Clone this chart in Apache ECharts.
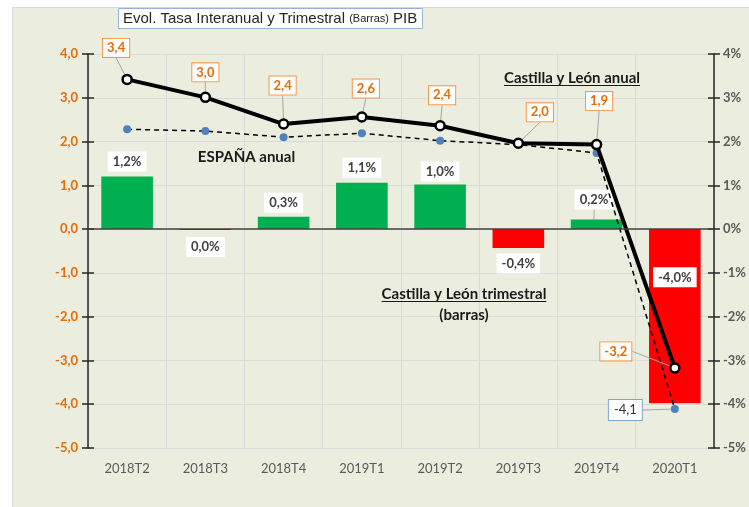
<!DOCTYPE html>
<html><head><meta charset="utf-8">
<script src="https://cdn.jsdelivr.net/npm/echarts@6/dist/echarts.min.js"></script>
<style>html,body{margin:0;padding:0;background:#fff}#c{width:749px;height:507px}</style>
</head><body><div id="c"></div>
<script>
// ---- data ----
const categories = ['2018T2','2018T3','2018T4','2019T1','2019T2','2019T3','2019T4','2020T1'];
const cylTrimestral = [1.2, -0.02, 0.28, 1.06, 1.02, -0.43, 0.22, -3.98];
const cylAnual = [3.42, 3.01, 2.40, 2.56, 2.36, 1.96, 1.93, -3.17];
const espanaAnual = [2.28, 2.24, 2.10, 2.19, 2.02, 1.93, 1.74, -4.11];
const axisMin = -5, axisMax = 4, axisStep = 1;

// ---- label placement (style only) ----
const cylLabelOffsets = [[-11,-31.5],[0,-25],[-1,-38.5],[4,-28.5],[2,-30.5],[21.5,-31],[2.5,-43.5],[-59,-16.5]];
const espLabelOffset = [-49.5, 1];
const barLabelOffsets = [[0,-15],[0,17],[0,-14],[0,-15],[0,-13],[0,15.5],[-2.5,-20],[0,-126]];

const FONT = 'Lato';
const fmt1 = v => { let s = v.toFixed(1); if (s === '-0.0') s = '0.0'; return s.replace('.', ','); };

const chart = echarts.init(document.getElementById('c'), null, {renderer:'canvas'});

const ctx = document.createElement('canvas').getContext('2d');
function tw(t, f){ ctx.font = f; return ctx.measureText(t).width; }
const annFont = 'bold 15px ' + FONT;
const annotations = [
  {text:'Castilla y León anual', x:572, y:78, u:true},
  {text:'ESPAÑA anual', x:246.5, y:157, u:false},
  {text:'Castilla y León trimestral', x:464, y:294, u:true},
  {text:'(barras)', x:464, y:315, u:false}
];
const graphics = [{
  type:'rect', z:-10, silent:true,
  shape:{x:12.5, y:7.5, width:760, height:520},
  style:{fill:'#EBEEDF', stroke:'#D9D9D9', lineWidth:1}
}];
annotations.forEach(a => {
  graphics.push({type:'text', z:10, silent:true, style:{text:a.text, x:a.x, y:a.y, font:annFont, fill:'#1a1a1a', align:'center', verticalAlign:'middle'}});
  if (a.u) {
    const w = tw(a.text, annFont);
    graphics.push({type:'line', z:10, silent:true, shape:{x1:a.x - w/2, y1:a.y + 7.5, x2:a.x + w/2, y2:a.y + 7.5}, style:{stroke:'#1a1a1a', lineWidth:1}});
  }
});

function centerLayout(offsets){
  return function(p){
    const o = Array.isArray(offsets[0]) ? offsets[p.dataIndex] : offsets;
    const r = p.rect;
    return {x: r.x + r.width/2 + o[0], y: r.y + r.height/2 + o[1], align:'center', verticalAlign:'middle'};
  };
}

const barData = cylTrimestral.map((v, i) => ({
  value: v,
  itemStyle: {color: v >= 0 ? '#00B050' : '#FF0000'},
  labelLine: {show: i === 6, lineStyle:{color:'#A6A6A6', width:1}}
}));

const tickCommon = {show: true, length: 6, lineStyle: {color: '#262626', width: 1.5}};

const option = {
  animation: false,
  backgroundColor: 'transparent',
  textStyle: {fontFamily: FONT},
  title: {
    left: 118, top: 7,
    padding: [3, 5, 3, 5],
    backgroundColor: '#fff',
    borderColor: '#95B3D7', borderWidth: 1,
    text: '{a|Evol. Tasa Interanual y Trimestral }{b|(Barras)}{a| PIB}',
    textStyle: {
      fontWeight: 'normal',
      rich: {
        a: {fontFamily:'Liberation Sans', fontSize:15, fontWeight:'normal', color:'#262626', lineHeight:17},
        b: {fontFamily:'Liberation Sans', fontSize:11, fontWeight:'normal', color:'#262626', lineHeight:17}
      }
    }
  },
  graphic: graphics,
  grid: {left: 88, right: 35, top: 54, bottom: 59, containLabel: false},
  xAxis: {
    type: 'category', data: categories, boundaryGap: true,
    axisLine: {show: false}, axisTick: {show: false},
    splitLine: {show: true, lineStyle: {color: '#D9D9D9', width: 1}},
    axisLabel: {color: '#595959', fontSize: 13, fontFamily: FONT, margin: 14}
  },
  yAxis: [{
    type: 'value', min: axisMin, max: axisMax, interval: axisStep, position: 'left',
    axisLine: {show: true, lineStyle: {color: '#262626', width: 1.5}},
    axisTick: tickCommon,
    splitLine: {show: true, lineStyle: {color: '#D9D9D9', width: 1}},
    axisLabel: {color: '#E46C0A', fontWeight: 'bold', fontSize: 13, fontFamily: FONT, margin: 10, formatter: v => fmt1(v)}
  }, {
    type: 'value', min: axisMin, max: axisMax, interval: axisStep, position: 'right',
    axisLine: {show: true, lineStyle: {color: '#262626', width: 1.5}},
    axisTick: tickCommon,
    splitLine: {show: false},
    axisLabel: {color: '#595959', fontWeight: 'bold', fontSize: 13, fontFamily: FONT, margin: 9, formatter: v => v + '%'}
  }, {
    type: 'value', min: axisMin, max: axisMax, interval: axisStep, position: 'left',
    axisLine: {show: false}, axisTick: Object.assign({inside: true}, tickCommon),
    splitLine: {show: false}, axisLabel: {show: false}
  }, {
    type: 'value', min: axisMin, max: axisMax, interval: axisStep, position: 'right',
    axisLine: {show: false}, axisTick: Object.assign({inside: true}, tickCommon),
    splitLine: {show: false}, axisLabel: {show: false}
  }],
  series: [{
    name: 'Castilla y León trimestral', type: 'bar', data: barData, barWidth: '66%', z: 2,
    label: {
      show: true, formatter: p => fmt1(p.value) + '%',
      backgroundColor: '#fff', padding: [4, 5, 3, 5],
      color: '#404040', fontWeight: 'bold', fontSize: 13, fontFamily: FONT
    },
    labelLayout: function(p){
      const o = barLabelOffsets[p.dataIndex];
      const r = p.rect;
      const v = cylTrimestral[p.dataIndex];
      const endY = v >= 0 ? r.y : r.y + r.height;
      return {x: r.x + r.width/2 + o[0], y: endY + o[1], align:'center', verticalAlign:'middle'};
    },
    markLine: {
      silent: true, symbol: ['none','none'], label: {show: false},
      lineStyle: {color: '#404040', width: 1.5, type: 'solid'},
      data: [{yAxis: 0}]
    }
  }, {
    name: 'ESPAÑA anual', type: 'line', z: 3,
    data: espanaAnual.map((v, i) => i === espanaAnual.length - 1 ? {value: v, label: {show: true}} : v),
    symbol: 'circle', symbolSize: 8,
    itemStyle: {color: '#4F81BD'},
    lineStyle: {color: '#000', width: 1.5, type: [5, 4]},
    label: {
      show: false, formatter: p => fmt1(p.value),
      backgroundColor: '#fff', borderColor: '#7FA3D0', borderWidth: 1, padding: [4, 5, 3, 5],
      color: '#333', fontSize: 13, fontFamily: FONT
    },
    labelLine: {show: true, lineStyle: {color: '#A6A6A6', width: 1}},
    labelLayout: centerLayout(espLabelOffset)
  }, {
    name: 'Castilla y León anual', type: 'line', z: 4,
    data: cylAnual,
    symbol: 'circle', symbolSize: 9,
    itemStyle: {color: '#fff', borderColor: '#000', borderWidth: 2.5},
    lineStyle: {color: '#000', width: 4},
    label: {
      show: true, formatter: p => fmt1(p.value),
      backgroundColor: '#fff', borderColor: '#F79646', borderWidth: 1, padding: [3, 4, 2, 4],
      color: '#E46C0A', fontWeight: 'bold', fontSize: 13, fontFamily: FONT
    },
    labelLine: {show: true, lineStyle: {color: '#A6A6A6', width: 1}},
    labelLayout: centerLayout(cylLabelOffsets)
  }]
};
chart.setOption(option);
</script></body></html>
